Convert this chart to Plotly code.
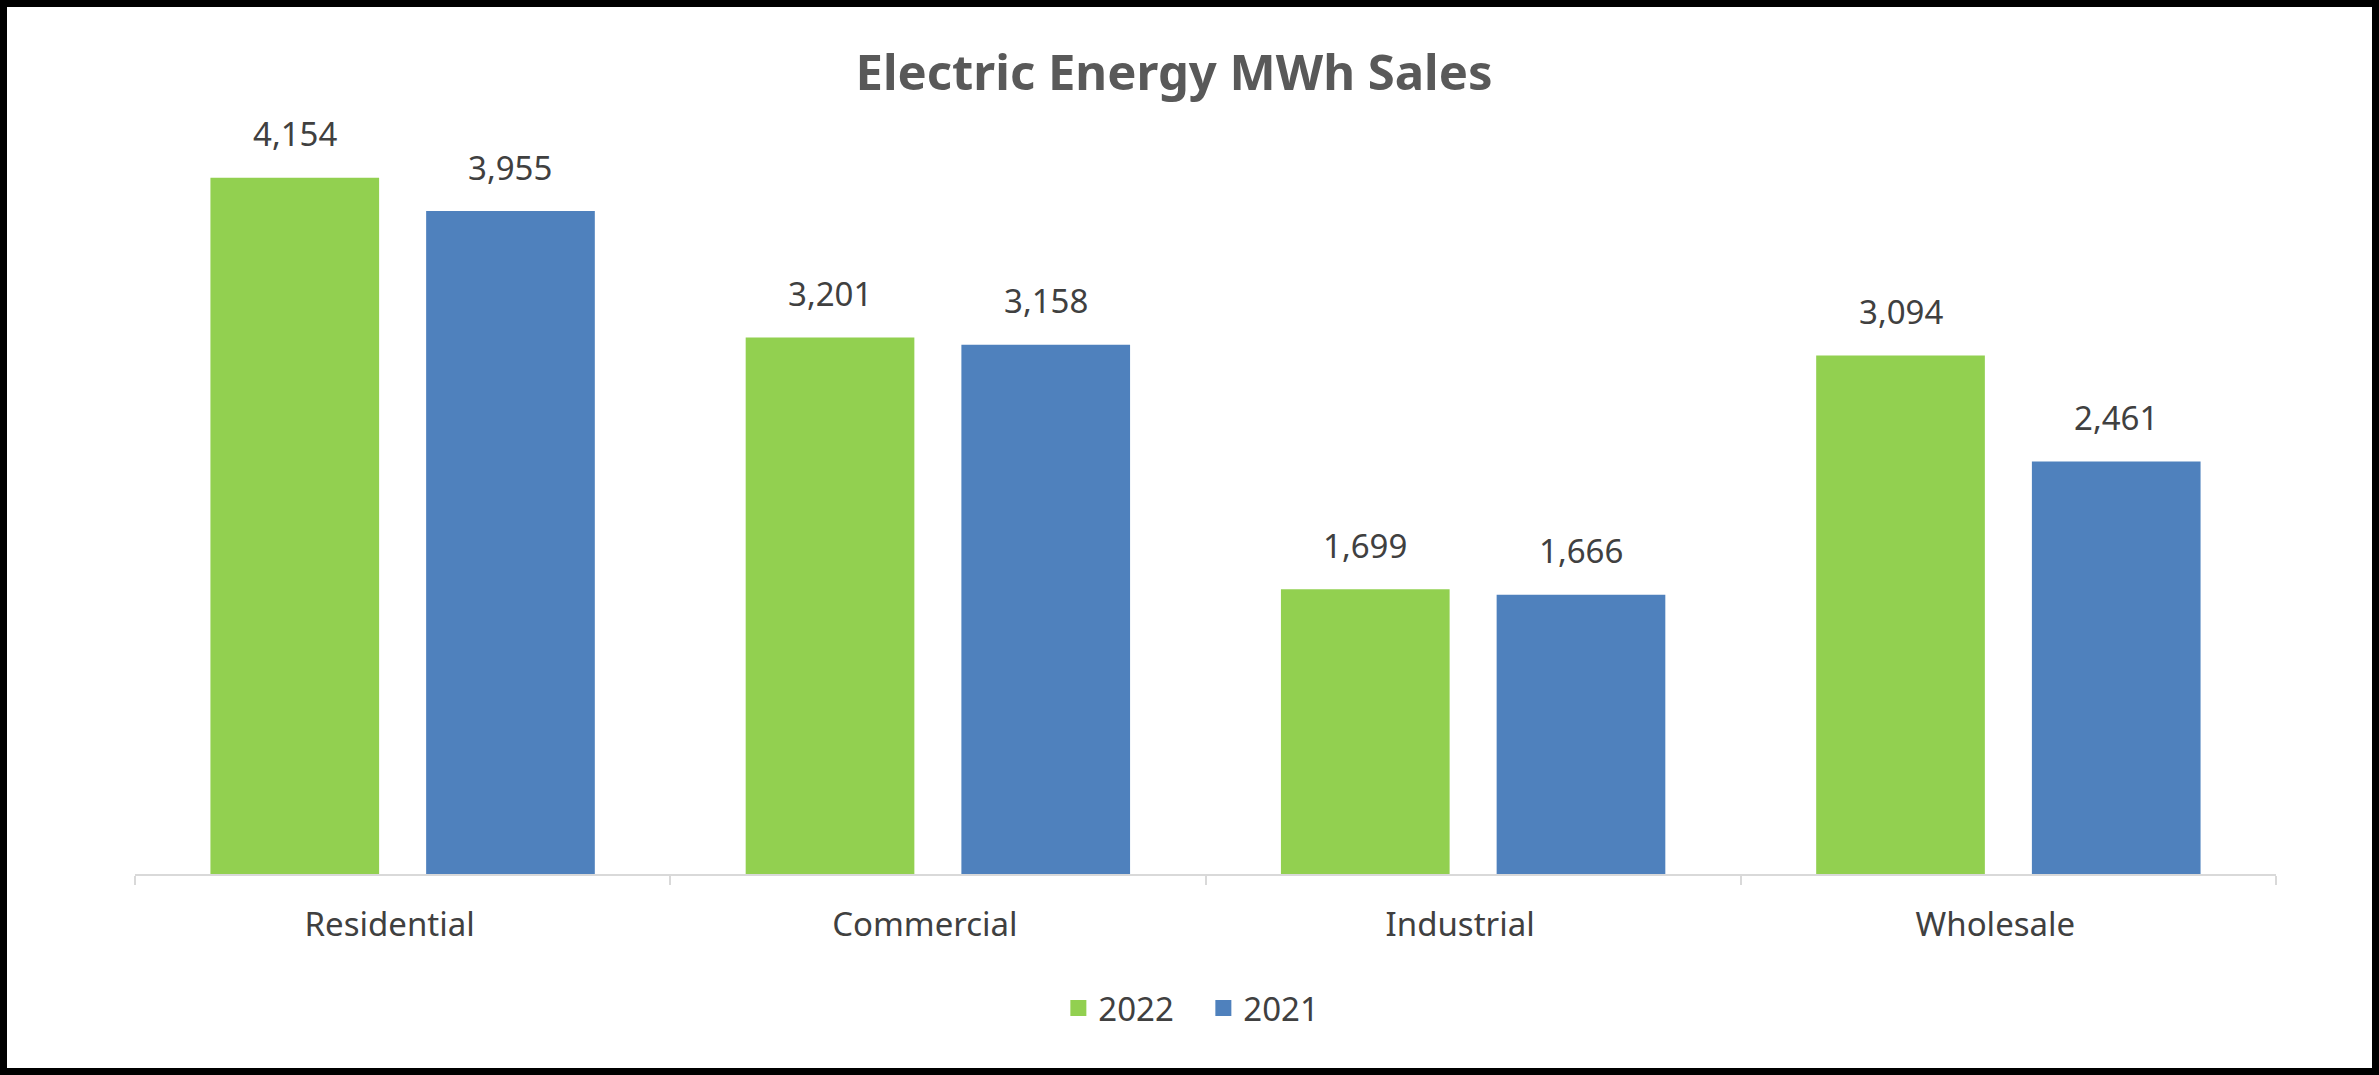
import plotly.graph_objects as go

# chart values
categories = ["Residential", "Commercial", "Industrial", "Wholesale"]
sales_2022 = [4154, 3201, 1699, 3094]
sales_2021 = [3955, 3158, 1666, 2461]
series_names = ["2022", "2021"]
series_colors = ["#92D050", "#4F81BD"]

W, H = 2379, 1075
margin = dict(l=135, r=103, t=103, b=201)
bargap = 0.194
text_color = "#404040"
font_family = "Noto Sans, Open Sans, sans-serif"

fig = go.Figure()
for name, vals, col in zip(series_names, [sales_2022, sales_2021], series_colors):
    fig.add_trace(go.Bar(
        x=categories, y=vals, name=name, marker_color=col,
        marker_line_width=0, showlegend=False, hoverinfo="x+y",
    ))
    # bigger squares for the legend
    fig.add_trace(go.Scatter(
        x=[None], y=[None], name=name, mode="markers",
        marker=dict(symbol="square", size=22, color=col),
    ))

# value labels above the bars, shifted onto each bar of the group
plot_w = W - margin["l"] - margin["r"]
offset = plot_w / len(categories) * (1 - bargap) / 4
for k, vals in enumerate([sales_2022, sales_2021]):
    for cat, v in zip(categories, vals):
        fig.add_annotation(
            x=cat, y=v, text=f"{v:,}", showarrow=False,
            xshift=(-offset if k == 0 else offset), yshift=44,
            yanchor="middle", font=dict(size=33, color=text_color),
        )

# outer black frame
plot_h = H - margin["t"] - margin["b"]
pad = 3.5
fig.add_shape(
    type="rect", xref="paper", yref="paper",
    x0=(-margin["l"] + pad) / plot_w, x1=1 + (margin["r"] - pad) / plot_w,
    y0=(-margin["b"] + pad) / plot_h, y1=1 + (margin["t"] - pad) / plot_h,
    line=dict(color="black", width=7), layer="above",
)

fig.update_layout(
    width=W, height=H, margin=margin,
    paper_bgcolor="white", plot_bgcolor="white",
    font=dict(family=font_family, size=33, color=text_color),
    title=dict(
        text="<b>Electric Energy MWh Sales</b>", x=0.4935, xanchor="center",
        y=1 - 73 / H, yanchor="middle",
        font=dict(size=49, color="#595959"),
    ),
    barmode="group", bargap=bargap, bargroupgap=0.218,
    legend=dict(
        orientation="h", x=0.499, xanchor="center", y=-0.174, yanchor="middle",
        font=dict(size=33, color=text_color), itemsizing="trace",
        entrywidth=100, entrywidthmode="pixels",
    ),
    xaxis=dict(
        showline=True, linecolor="#D9D9D9", linewidth=2,
        ticks="outside", tickson="boundaries", ticklen=9, tickcolor="#D9D9D9",
        tickwidth=2, showgrid=False, ticklabelstandoff=20, ticklabelshift=-13,
        tickfont=dict(size=33, color=text_color),
    ),
    yaxis=dict(visible=False, range=[0, 4600]),
)

# drop the default page margin so the figure fills the window exactly
fig.write_html(
    "out.html",
    config={"displayModeBar": False},
    post_script="document.body.style.margin='0';",
)
